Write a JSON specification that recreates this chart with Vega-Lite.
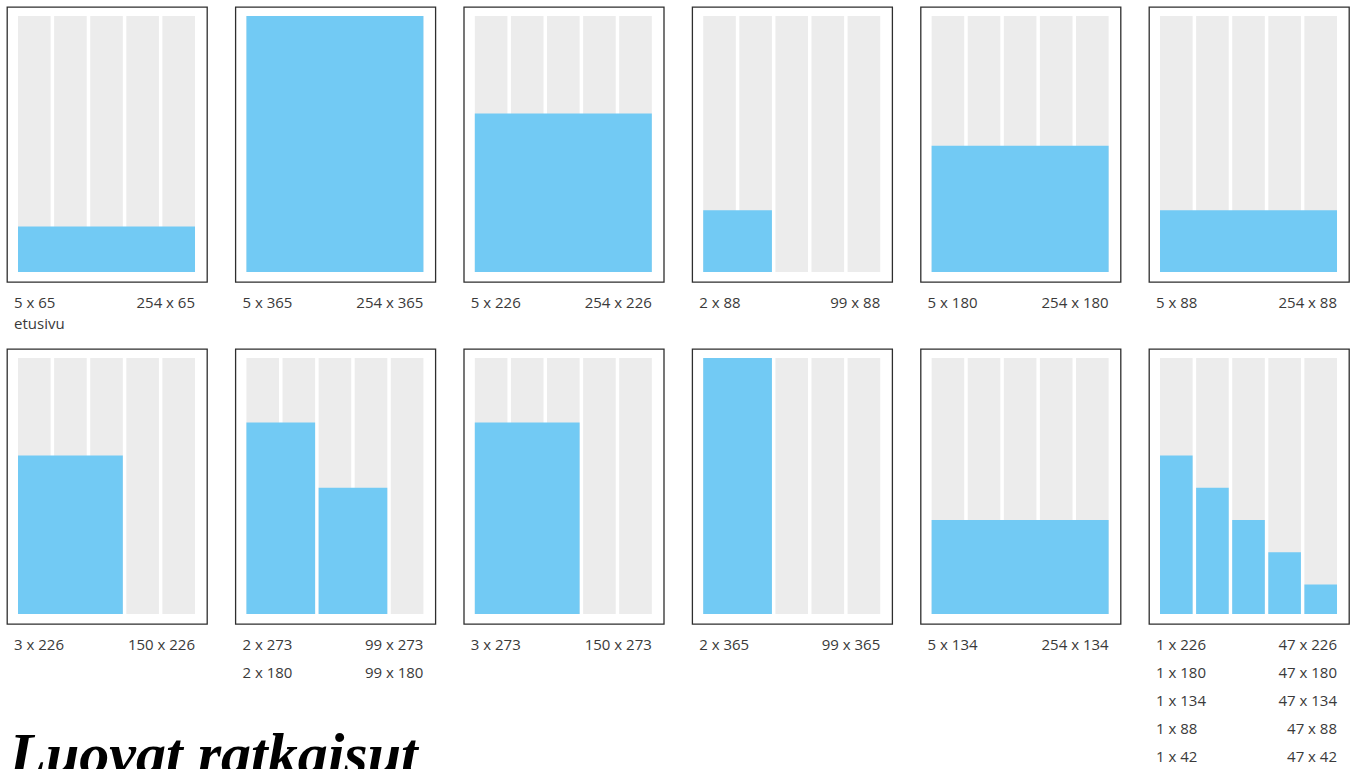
{
  "$schema": "https://vega.github.io/schema/vega-lite/v6.json",
  "padding": {"left": 6, "top": 6, "right": 0, "bottom": 0},
  "background": "#ffffff",
  "bounds": "flush",
  "title": {
    "text": "Luovat ratkaisut",
    "orient": "bottom",
    "anchor": "start",
    "font": "Liberation Serif",
    "fontSize": 60,
    "fontStyle": "italic",
    "fontWeight": "bold",
    "color": "#000000",
    "baseline": "alphabetic",
    "offset": 8,
    "dx": 3
  },
  "data": {
    "values": [
      {"kind": "page", "panel": 1, "c0": [0, 51.8, 103.6, 155.4, 207.2], "c1": [46.8, 98.6, 150.4, 202.2, 254], "top": 365},
      {"kind": "page", "panel": 2, "c0": [0, 51.8, 103.6, 155.4, 207.2], "c1": [46.8, 98.6, 150.4, 202.2, 254], "top": 365},
      {"kind": "page", "panel": 3, "c0": [0, 51.8, 103.6, 155.4, 207.2], "c1": [46.8, 98.6, 150.4, 202.2, 254], "top": 365},
      {"kind": "page", "panel": 4, "c0": [0, 51.8, 103.6, 155.4, 207.2], "c1": [46.8, 98.6, 150.4, 202.2, 254], "top": 365},
      {"kind": "page", "panel": 5, "c0": [0, 51.8, 103.6, 155.4, 207.2], "c1": [46.8, 98.6, 150.4, 202.2, 254], "top": 365},
      {"kind": "page", "panel": 6, "c0": [0, 51.8, 103.6, 155.4, 207.2], "c1": [46.8, 98.6, 150.4, 202.2, 254], "top": 365},
      {"kind": "page", "panel": 7, "c0": [0, 51.8, 103.6, 155.4, 207.2], "c1": [46.8, 98.6, 150.4, 202.2, 254], "top": 365},
      {"kind": "page", "panel": 8, "c0": [0, 51.8, 103.6, 155.4, 207.2], "c1": [46.8, 98.6, 150.4, 202.2, 254], "top": 365},
      {"kind": "page", "panel": 9, "c0": [0, 51.8, 103.6, 155.4, 207.2], "c1": [46.8, 98.6, 150.4, 202.2, 254], "top": 365},
      {"kind": "page", "panel": 10, "c0": [0, 51.8, 103.6, 155.4, 207.2], "c1": [46.8, 98.6, 150.4, 202.2, 254], "top": 365},
      {"kind": "page", "panel": 11, "c0": [0, 51.8, 103.6, 155.4, 207.2], "c1": [46.8, 98.6, 150.4, 202.2, 254], "top": 365},
      {"kind": "page", "panel": 12, "c0": [0, 51.8, 103.6, 155.4, 207.2], "c1": [46.8, 98.6, 150.4, 202.2, 254], "top": 365},
      {"kind": "ad", "panel": 1, "x0": 0, "x1": 254, "h": 65, "line": 1, "left": "5 x 65", "right": "254 x 65", "note": "etusivu"},
      {"kind": "ad", "panel": 2, "x0": 0, "x1": 254, "h": 365, "line": 1, "left": "5 x 365", "right": "254 x 365"},
      {"kind": "ad", "panel": 3, "x0": 0, "x1": 254, "h": 226, "line": 1, "left": "5 x 226", "right": "254 x 226"},
      {"kind": "ad", "panel": 4, "x0": 0, "x1": 98.6, "h": 88, "line": 1, "left": "2 x 88", "right": "99 x 88"},
      {"kind": "ad", "panel": 5, "x0": 0, "x1": 254, "h": 180, "line": 1, "left": "5 x 180", "right": "254 x 180"},
      {"kind": "ad", "panel": 6, "x0": 0, "x1": 254, "h": 88, "line": 1, "left": "5 x 88", "right": "254 x 88"},
      {"kind": "ad", "panel": 7, "x0": 0, "x1": 150.4, "h": 226, "line": 1, "left": "3 x 226", "right": "150 x 226"},
      {"kind": "ad", "panel": 8, "x0": 0, "x1": 98.6, "h": 273, "line": 1, "left": "2 x 273", "right": "99 x 273"},
      {"kind": "ad", "panel": 8, "x0": 103.6, "x1": 202.2, "h": 180, "line": 2, "left": "2 x 180", "right": "99 x 180"},
      {"kind": "ad", "panel": 9, "x0": 0, "x1": 150.4, "h": 273, "line": 1, "left": "3 x 273", "right": "150 x 273"},
      {"kind": "ad", "panel": 10, "x0": 0, "x1": 98.6, "h": 365, "line": 1, "left": "2 x 365", "right": "99 x 365"},
      {"kind": "ad", "panel": 11, "x0": 0, "x1": 254, "h": 134, "line": 1, "left": "5 x 134", "right": "254 x 134"},
      {"kind": "ad", "panel": 12, "x0": 0, "x1": 46.8, "h": 226, "line": 1, "left": "1 x 226", "right": "47 x 226"},
      {"kind": "ad", "panel": 12, "x0": 51.8, "x1": 98.6, "h": 180, "line": 2, "left": "1 x 180", "right": "47 x 180"},
      {"kind": "ad", "panel": 12, "x0": 103.6, "x1": 150.4, "h": 134, "line": 3, "left": "1 x 134", "right": "47 x 134"},
      {"kind": "ad", "panel": 12, "x0": 155.4, "x1": 202.2, "h": 88, "line": 4, "left": "1 x 88", "right": "47 x 88"},
      {"kind": "ad", "panel": 12, "x0": 207.2, "x1": 254, "h": 42, "line": 5, "left": "1 x 42", "right": "47 x 42"}
    ]
  },
  "facet": {
    "field": "panel",
    "type": "ordinal",
    "title": null,
    "header": {"labels": false, "labelFontSize": 0, "labelPadding": 0, "labelExpr": "''", "title": null}
  },
  "columns": 6,
  "spacing": {"row": 67, "column": 28.4},
  "spec": {
    "width": 200,
    "height": 275,
    "resolve": {"scale": {"y": "independent"}},
    "layer": [
      {
        "transform": [{"filter": "datum.kind === 'page'"}, {"flatten": ["c0", "c1"]}],
        "mark": {"type": "rect", "color": "#ececec"},
        "encoding": {
          "x": {"field": "c0", "type": "quantitative", "axis": null, "scale": {"domain": [-15.8, 271.2], "nice": false, "zero": false}},
          "x2": {"field": "c1"},
          "y": {"field": "top", "type": "quantitative", "axis": null, "scale": {"domain": [-14.3, 377.8], "nice": false, "zero": false}},
          "y2": {"datum": 0}
        }
      },
      {
        "transform": [{"filter": "datum.kind === 'ad'"}],
        "mark": {"type": "rect", "color": "#72caf4"},
        "encoding": {
          "x": {"field": "x0", "type": "quantitative", "axis": null},
          "x2": {"field": "x1"},
          "y": {"field": "h", "type": "quantitative", "axis": null, "scale": {"domain": [-14.3, 377.8], "nice": false, "zero": false}},
          "y2": {"datum": 0}
        }
      },
      {
        "transform": [{"filter": "datum.kind === 'ad'"}],
        "mark": {"type": "text", "align": "left", "baseline": "middle", "dx": -4, "fontSize": 15, "font": "Open Sans", "color": "#3a3a3a"},
        "encoding": {
          "x": {"datum": 0},
          "y": {"field": "line", "type": "quantitative", "axis": null, "scale": {"domain": [1, 6], "range": [296, 436], "nice": false, "zero": false}},
          "text": {"field": "left"}
        }
      },
      {
        "transform": [{"filter": "datum.kind === 'ad'"}],
        "mark": {"type": "text", "align": "right", "baseline": "middle", "dx": 0, "fontSize": 15, "font": "Open Sans", "color": "#3a3a3a"},
        "encoding": {
          "x": {"datum": 254},
          "y": {"field": "line", "type": "quantitative", "axis": null, "scale": {"domain": [1, 6], "range": [296, 436], "nice": false, "zero": false}},
          "text": {"field": "right"}
        }
      },
      {
        "transform": [{"filter": "datum.kind === 'ad' && isValid(datum.note)"}],
        "mark": {"type": "text", "align": "left", "baseline": "middle", "dx": -4, "dy": 21, "fontSize": 15, "font": "Open Sans", "color": "#3a3a3a"},
        "encoding": {
          "x": {"datum": 0},
          "y": {"field": "line", "type": "quantitative", "axis": null, "scale": {"domain": [1, 6], "range": [296, 436], "nice": false, "zero": false}},
          "text": {"field": "note"}
        }
      }
    ]
  },
  "config": {
    "view": {"stroke": "#2e2e2e", "strokeWidth": 1.3},
    "text": {"font": "Open Sans"},
    "header": {"labels": false, "labelFontSize": 0, "labelPadding": 0, "title": null},
    "headerFacet": {"labels": false, "labelFontSize": 0, "labelPadding": 0, "title": null}
  }
}
